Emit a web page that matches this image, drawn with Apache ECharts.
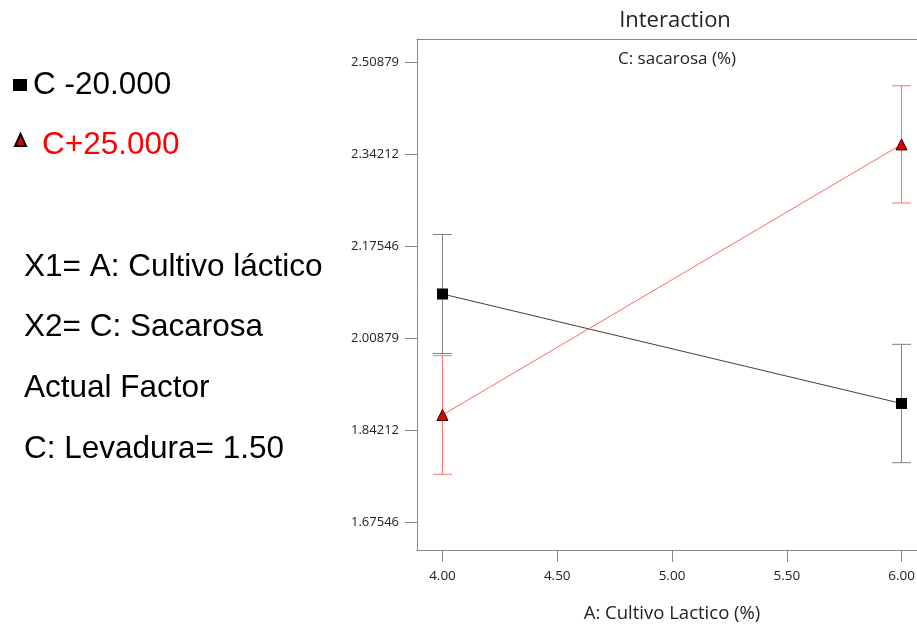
<!DOCTYPE html>
<html>
<head>
<meta charset="utf-8">
<script src="https://cdn.jsdelivr.net/npm/echarts@6/dist/echarts.min.js"></script>
<style>html,body{margin:0;padding:0;background:#fff;overflow:hidden}#c{width:917px;height:625px}</style>
</head>
<body>
<div id="c"></div>
<script>
// Data
const xLevels = [4.00, 6.00];
const seriesLow = [2.0885, 1.8901];      // C -20.000
const lowErr = [0.1078, 0.1072];
const seriesHigh = [1.8693, 2.3595];     // C+25.000
const highErr = [0.1074, 0.1062];
const yTicks = [1.67546, 1.84212, 2.00879, 2.17546, 2.34212, 2.50879];
const xTicks = [4.00, 4.50, 5.00, 5.50, 6.00];
const legendLabels = ['C -20.000', 'C+25.000'];
const noteLines = ['X1= A: Cultivo láctico', 'X2= C: Sacarosa', 'Actual Factor', 'C: Levadura= 1.50'];

const chart = echarts.init(document.getElementById('c'));
const font = 'Open Sans, Noto Sans, sans-serif';
const leftFont = '31.5px "Liberation Sans", Arial, sans-serif';

function errData(vals, errs) {
  return xLevels.map((x, i) => [x, vals[i] - errs[i], vals[i] + errs[i]]);
}
function errRender(color) {
  return function (params, api) {
    const x = api.value(0);
    const lo = api.coord([x, api.value(1)]);
    const hi = api.coord([x, api.value(2)]);
    const w = 9.5;
    const st = { stroke: color, lineWidth: 1 };
    return {
      type: 'group',
      children: [
        { type: 'line', shape: { x1: lo[0], y1: lo[1], x2: hi[0], y2: hi[1] }, style: st },
        { type: 'line', shape: { x1: lo[0] - w, y1: lo[1], x2: lo[0] + w, y2: lo[1] }, style: st },
        { type: 'line', shape: { x1: hi[0] - w, y1: hi[1], x2: hi[0] + w, y2: hi[1] }, style: st }
      ]
    };
  };
}

const graphics = [
  { type: 'rect', shape: { x: 13, y: 79, width: 14, height: 12 }, style: { fill: '#000' } },
  { type: 'text', x: 33, y: 85, style: { text: legendLabels[0], font: leftFont, fill: '#000', textVerticalAlign: 'middle' } },
  { type: 'polygon', shape: { points: [[20.5, 134], [15, 146], [26, 146]] }, style: { fill: '#e00000', stroke: '#000', lineWidth: 2 } },
  { type: 'text', x: 42, y: 145, style: { text: legendLabels[1], font: leftFont, fill: '#ff0000', textVerticalAlign: 'middle' } }
];
noteLines.forEach((t, i) => {
  graphics.push({ type: 'text', x: 24, y: 267 + i * 60.7, style: { text: t, font: leftFont, fill: '#000', textVerticalAlign: 'middle' } });
});

chart.setOption({
  animation: false,
  backgroundColor: '#fff',
  title: [
    { text: 'Interaction', left: 670, top: 5, textAlign: 'center', textStyle: { fontFamily: font, fontSize: 22, fontWeight: 'normal', color: '#222' } },
    { text: 'C: sacarosa (%)', left: 672, top: 46, textAlign: 'center', textStyle: { fontFamily: font, fontSize: 17, fontWeight: 'normal', color: '#222' } }
  ],
  grid: { left: 417, top: 39, width: 510, height: 511, show: false, containLabel: false, outerBoundsMode: 'none' },
  xAxis: [{
    type: 'value', min: 3.889, max: 6.111,
    name: 'A: Cultivo Lactico (%)', nameLocation: 'middle', nameGap: 54,
    nameTextStyle: { fontFamily: font, fontSize: 18.5, color: '#222' },
    axisLine: { show: true, lineStyle: { color: '#888' } },
    axisTick: { show: true, length: 12, customValues: xTicks, lineStyle: { color: '#888' } },
    axisLabel: { customValues: xTicks, formatter: v => v.toFixed(2), fontFamily: font, fontSize: 13.5, color: '#222', margin: 19 },
    splitLine: { show: false }
  }, {
    type: 'value', position: 'top', min: 3.889, max: 6.111,
    axisLine: { show: true, lineStyle: { color: '#888' } },
    axisTick: { show: false }, axisLabel: { show: false }, splitLine: { show: false }
  }],
  yAxis: {
    type: 'value', min: 1.6247, max: 2.5505, position: 'left',
    axisLine: { show: true, onZero: false, lineStyle: { color: '#888' } },
    axisTick: { show: true, length: 12, customValues: yTicks, lineStyle: { color: '#888' } },
    axisLabel: { customValues: yTicks, formatter: v => v.toFixed(5), fontFamily: font, fontSize: 13, color: '#222', margin: 18 },
    splitLine: { show: false }
  },
  series: [
    { type: 'custom', renderItem: errRender('#808080'), data: errData(seriesLow, lowErr), encode: { x: 0, y: [1, 2] }, z: 2 },
    { type: 'custom', renderItem: errRender('#ff7070'), data: errData(seriesHigh, highErr), encode: { x: 0, y: [1, 2] }, z: 2 },
    {
      type: 'line', name: legendLabels[0], data: xLevels.map((x, i) => [x, seriesLow[i]]),
      symbol: 'rect', symbolSize: 11, itemStyle: { color: '#000' },
      lineStyle: { color: '#404040', width: 1 }, z: 3
    },
    {
      type: 'line', name: legendLabels[1], data: xLevels.map((x, i) => [x, seriesHigh[i]]),
      symbol: 'triangle', symbolSize: 11, itemStyle: { color: '#e00000', borderColor: '#300', borderWidth: 1 },
      lineStyle: { color: '#ff6666', width: 1 }, z: 3
    }
  ],
  graphic: graphics
});
</script>
</body>
</html>
